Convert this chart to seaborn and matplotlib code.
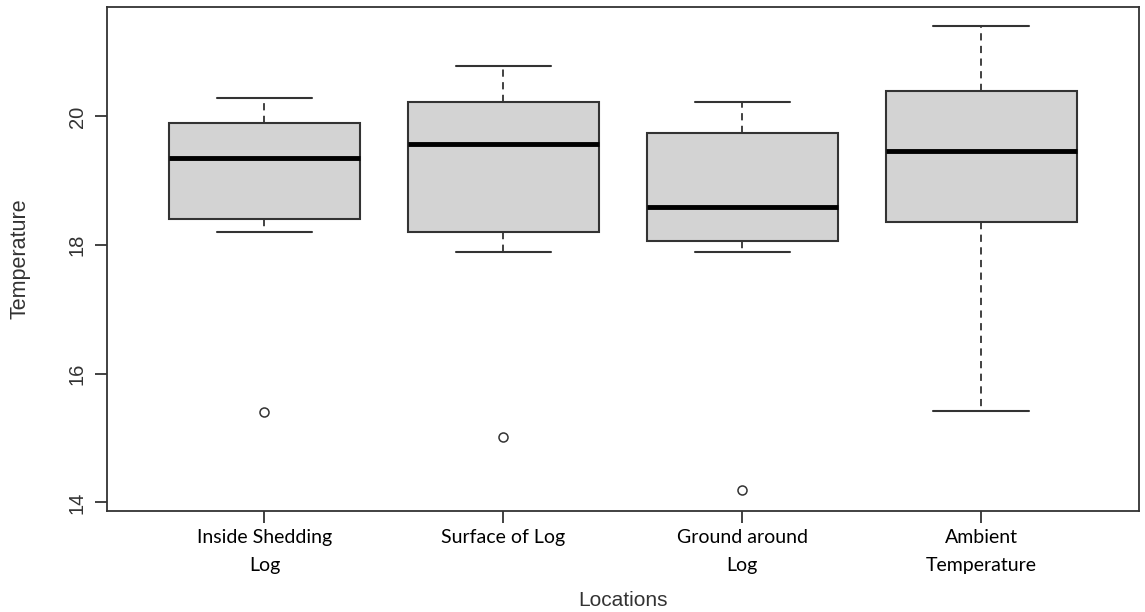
import numpy as np
import pandas as pd
import matplotlib
matplotlib.use("Agg")
import matplotlib.pyplot as plt
import seaborn as sns

categories = ["Inside Shedding\nLog", "Surface of Log", "Ground around\nLog", "Ambient\nTemperature"]
inside_log = [15.41, 18.20, 18.40, 18.90, 19.36, 19.60, 19.90, 20.10, 20.29]
surface_log = [15.02, 17.89, 18.20, 19.00, 19.57, 19.90, 20.22, 20.50, 20.79]
ground_log = [14.19, 17.89, 18.06, 18.30, 18.60, 19.20, 19.74, 20.00, 20.22]
ambient = [15.42, 16.50, 18.36, 19.00, 19.46, 19.90, 20.39, 21.00, 21.41]
y_ticks = [14, 16, 18, 20]

df = pd.DataFrame({
    "Location": np.repeat(categories, [len(inside_log), len(surface_log), len(ground_log), len(ambient)]),
    "Temperature": inside_log + surface_log + ground_log + ambient,
})

sns.set_style("white")
plt.rcParams["font.family"] = ["Liberation Sans", "DejaVu Sans"]

fig = plt.figure(figsize=(11.45, 6.12), dpi=100)
ax = fig.add_axes([0.0932, 0.1655, 0.9015, 0.8230])

edge = "#333333"
sns.boxplot(
    data=df, x="Location", y="Temperature", order=categories, ax=ax,
    color="#D3D3D3", saturation=1, width=0.8, linecolor=edge, linewidth=1.5,
    whiskerprops=dict(linestyle=(0, (4, 3)), color=edge, linewidth=1.3),
    capprops=dict(color=edge, linewidth=1.5),
    medianprops=dict(color="black", linewidth=3.5),
    flierprops=dict(marker="o", markersize=6.5, markerfacecolor="white",
                    markeredgecolor=edge, markeredgewidth=1.1),
)

ax.set_xlim(-0.66, 3.66)
ax.set_ylim(13.872, 21.70)
ax.set_yticks(y_ticks)
ax.set_yticklabels([str(t) for t in y_ticks], rotation=90, va="center",
                   fontsize=14.5, color="#333333")
ax.set_xticks(range(len(categories)))
ax.set_xticklabels(categories, fontsize=14, color="black", family=["Lato", "DejaVu Sans"],
                   linespacing=1.75)
ax.tick_params(axis="both", which="both", direction="out", length=8.5, width=1.3,
               color=edge, left=True, bottom=True)
ax.tick_params(axis="y", pad=6)
ax.tick_params(axis="x", pad=5)
for s in ax.spines.values():
    s.set_visible(True)
    s.set_color(edge)
    s.set_linewidth(1.3)

ax.set_xlabel("Locations", fontsize=15, color="#333333")
ax.set_ylabel("Temperature", fontsize=15.5, color="#333333")
ax.yaxis.set_label_coords(-0.074, 0.5)
ax.xaxis.set_label_coords(0.5, -0.16)

fig.savefig("out.png", dpi=100)
